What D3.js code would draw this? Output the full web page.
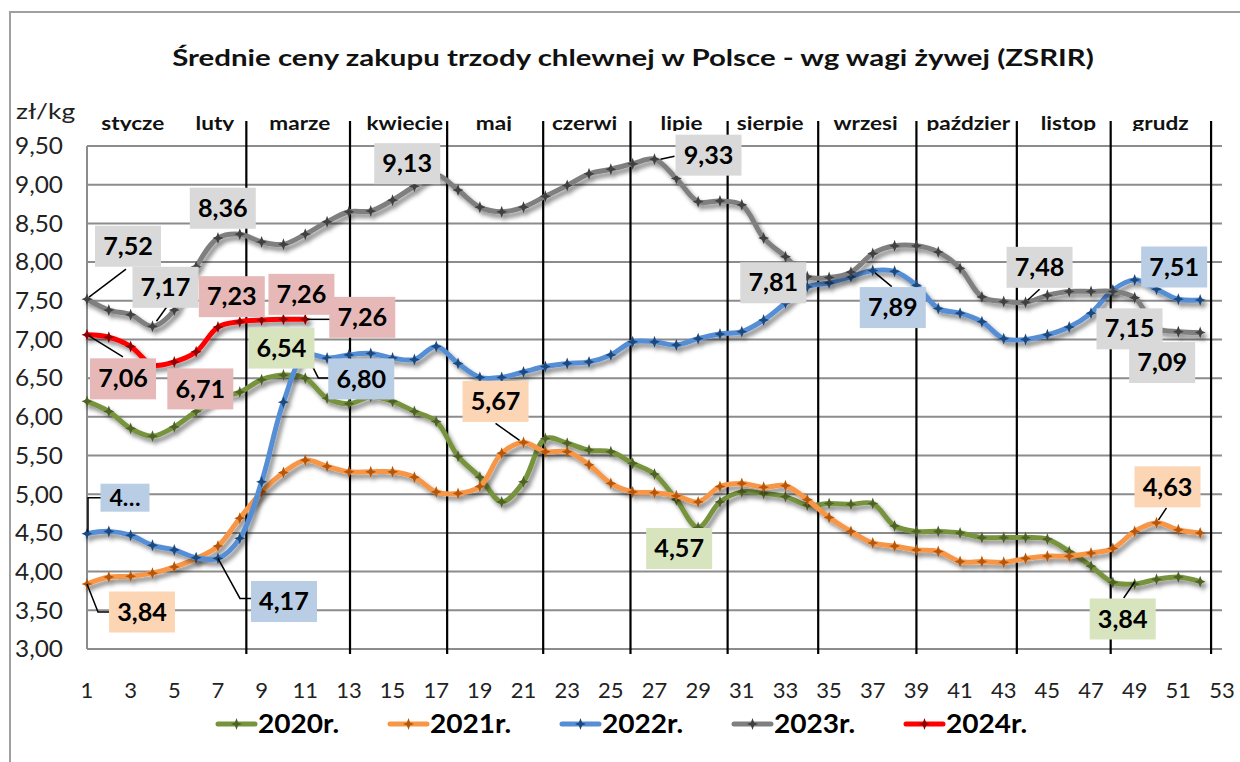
<!DOCTYPE html>
<html>
<head>
<meta charset="utf-8">
<script src="https://cdn.jsdelivr.net/npm/d3@7.9.0/dist/d3.min.js"></script>
<style>
  body { margin: 0; background: #fff; }
  svg { display: block; font-family: Lato, "Noto Sans", sans-serif; }
</style>
</head>
<body>
<svg id="chart" width="1240" height="762"></svg>
<script>
// weekly prices, zł/kg live weight
const weeks = d3.range(1, 53);
const y2020 = [6.20, 6.07, 5.85, 5.75, 5.87, 6.07, 6.24, 6.32, 6.48, 6.54, 6.50, 6.24, 6.17, 6.26, 6.20, 6.07, 5.94, 5.49, 5.22, 4.90,
  5.16, 5.72, 5.66, 5.57, 5.55, 5.40, 5.26, 4.93, 4.57, 4.90, 5.03, 5.01, 4.97, 4.86, 4.88, 4.87, 4.88, 4.59, 4.52, 4.52,
  4.50, 4.44, 4.44, 4.44, 4.42, 4.26, 4.07, 3.86, 3.84, 3.90, 3.93, 3.87];
const y2021 = [3.84, 3.93, 3.94, 3.98, 4.06, 4.17, 4.33, 4.69, 5.03, 5.28, 5.44, 5.36, 5.29, 5.29, 5.29, 5.22, 5.03, 5.01, 5.10, 5.53,
  5.67, 5.55, 5.55, 5.38, 5.14, 5.03, 5.02, 4.98, 4.90, 5.10, 5.14, 5.09, 5.11, 4.93, 4.70, 4.52, 4.37, 4.33, 4.28, 4.26,
  4.13, 4.13, 4.12, 4.17, 4.20, 4.20, 4.24, 4.30, 4.52, 4.63, 4.54, 4.50];
const y2022 = [4.49, 4.52, 4.47, 4.34, 4.28, 4.18, 4.17, 4.43, 5.16, 6.19, 6.80, 6.76, 6.80, 6.82, 6.76, 6.74, 6.91, 6.69, 6.51, 6.51,
  6.58, 6.65, 6.69, 6.71, 6.80, 6.97, 6.97, 6.93, 7.01, 7.07, 7.10, 7.25, 7.47, 7.68, 7.73, 7.81, 7.89, 7.88, 7.70, 7.40,
  7.34, 7.23, 7.01, 7.00, 7.06, 7.16, 7.34, 7.64, 7.77, 7.65, 7.52, 7.51];
const y2023 = [7.52, 7.38, 7.32, 7.17, 7.38, 7.94, 8.31, 8.36, 8.26, 8.23, 8.36, 8.52, 8.65, 8.66, 8.80, 8.98, 9.13, 8.93, 8.71, 8.65,
  8.71, 8.85, 8.99, 9.14, 9.20, 9.27, 9.33, 9.08, 8.78, 8.79, 8.74, 8.31, 8.07, 7.81, 7.80, 7.87, 8.11, 8.21, 8.21, 8.13,
  7.92, 7.55, 7.49, 7.48, 7.57, 7.62, 7.62, 7.62, 7.54, 7.15, 7.10, 7.09];
const y2024 = [7.06, 7.03, 6.91, 6.67, 6.71, 6.84, 7.16, 7.23, 7.25, 7.26, 7.26];

const seriesNames = ['2020r.', '2021r.', '2022r.', '2023r.', '2024r.'];
const yTicks = d3.range(3, 9.51, 0.5);
const xTicks = d3.range(1, 54, 2);
const months = ['stycze', 'luty', 'marze', 'kwiecie', 'maj', 'czerwi', 'lipie', 'sierpie', 'wrzesi', 'paździer', 'listop', 'grudz'];
const monthCenters = [3.1, 6.86, 10.75, 15.56, 19.64, 23.8, 28.24, 32.3, 36.67, 41.38, 45.96, 50.18];
const monthBreaks = [8.3, 13.05, 17.5, 21.9, 25.9, 30.35, 34.5, 39.0, 43.6, 47.9, 52.5];

// which points carry a value label: series index, week
const labelSeries = [3, 3, 3, 3, 3, 3, 3, 3, 3, 4, 4, 4, 4, 4, 2, 2, 2, 2, 2, 1, 1, 1, 0, 0, 0];
const labelWeeks = [1, 4, 8, 17, 27, 34, 44, 50, 52, 1, 5, 8, 10, 11, 1, 7, 11, 37, 52, 1, 21, 50, 10, 29, 49];

const series = [y2020, y2021, y2022, y2023, y2024];
const lineColors = ['#77933c', '#f79646', '#558ed5', '#7f7f7f', '#ff0000'];
const markColors = ['#4f6228', '#b65708', '#1f497d', '#404040', '#900000'];
const boxColors = ['#d7e4bd', '#fcd5b5', '#b9cde5', '#d9d9d9', '#e6b9b8'];

// label box offsets from the point and leader lines (px)
const labelLayout = [
  { dx: 41, dy: -53, lead: [[2, -2], [39, -30]] },
  { dx: 13, dy: -39, lead: [[4, -5], [14, -19]] },
  { dx: -17, dy: -26 },
  { dx: -29, dy: -11 },
  { dx: 54, dy: -4, lead: [[6, 0], [20, -3]] },
  { dx: -34, dy: 6 },
  { dx: 14, dy: -35, lead: [[2, -2], [14, -13]] },
  { dx: -27, dy: 1 },
  { dx: -38, dy: 30 },
  { dx: 36, dy: 44, lead: [[2, 1], [36, 22]] },
  { dx: 26, dy: 27 },
  { dx: -8, dy: -25 },
  { dx: 18, dy: -25 },
  { dx: 57, dy: -2, lead: [[2, 0], [28, 0]] },
  { dx: 38, dy: -36, lead: [[1, -2], [1, -36], [14, -36]], text: '4…', w: 49, h: 28, size: 22 },
  { dx: 66, dy: 43, lead: [[0, 0], [22, 40], [33, 40]] },
  { dx: 56, dy: 24, lead: [[0, -3], [13, 23], [23, 23]] },
  { dx: 20, dy: 37, lead: [[2, 2], [19, 16]] },
  { dx: -26, dy: -33 },
  { dx: 55, dy: 28, lead: [[0, 0], [11, 28], [22, 28]] },
  { dx: -28, dy: -41, lead: [[-4, -2], [-28, -19]] },
  { dx: 11, dy: -36, lead: [[2, -3], [10, -15]] },
  { dx: -2, dy: -27 },
  { dx: -19, dy: 21 },
  { dx: -12, dy: 35, lead: [[0, -2], [-11, 14]] }
];

const svg = d3.select('#chart');
const x = d3.scaleLinear().domain([1, 53]).range([87, 1222]);
const y = d3.scaleLinear().domain([3, 9.5]).range([649, 146]);

// drop shadow like the spreadsheet lines
const defs = svg.append('defs');
const f = defs.append('filter').attr('id', 'shadow').attr('x', '-10%').attr('y', '-10%').attr('width', '120%').attr('height', '130%');
f.append('feDropShadow').attr('dx', 3).attr('dy', 4).attr('stdDeviation', 2.2)
  .attr('flood-color', '#000').attr('flood-opacity', 0.45);
defs.append('clipPath').attr('id', 'monthClip')
  .append('rect').attr('x', 0).attr('y', 0).attr('width', 1240).attr('height', 131);

// outer frame (only left and top edges visible)
svg.append('rect').attr('x', 10).attr('y', 12).attr('width', 1260).attr('height', 780)
  .attr('fill', 'none').attr('stroke', '#a0a0a0').attr('stroke-width', 2);

// the original fonts are drawn wider, so stretch text horizontally
svg.append('text').attr('transform', 'translate(633,66) scale(1.28,1)').attr('text-anchor', 'middle')
  .attr('font-size', 23).attr('font-weight', 700).attr('fill', '#111')
  .text('Średnie ceny zakupu trzody chlewnej w Polsce - wg wagi żywej (ZSRIR)');

// gridlines
svg.append('g').selectAll('line').data(yTicks).join('line')
  .attr('x1', x(1)).attr('x2', x(53))
  .attr('y1', (d) => y(d)).attr('y2', (d) => y(d))
  .attr('stroke', '#8c8c8c').attr('stroke-width', 2);
svg.append('line').attr('x1', x(1)).attr('x2', x(1)).attr('y1', y(9.5)).attr('y2', y(3))
  .attr('stroke', '#8c8c8c').attr('stroke-width', 2);

// y axis labels
svg.append('g').selectAll('text').data(yTicks).join('text')
  .attr('transform', (d) => `translate(63,${y(d)}) scale(1.06,1)`).attr('dy', '0.36em')
  .attr('text-anchor', 'end').attr('font-size', 23).attr('fill', '#222')
  .text((d) => d3.format('.2f')(d).replace('.', ','));
svg.append('text').attr('transform', 'translate(16,119) scale(1.2,1)')
  .attr('font-size', 22).attr('fill', '#222').text('zł/kg');

// x axis labels
svg.append('g').selectAll('text').data(xTicks).join('text')
  .attr('x', (d) => x(d)).attr('y', 698)
  .attr('text-anchor', 'middle').attr('font-size', 22).attr('fill', '#222')
  .text((d) => d);

// month separators and names
svg.append('g').selectAll('line').data(monthBreaks).join('line')
  .attr('x1', (d) => x(d)).attr('x2', (d) => x(d))
  .attr('y1', 121).attr('y2', 654)
  .attr('stroke', '#000').attr('stroke-width', 2.2);
svg.append('g').attr('clip-path', 'url(#monthClip)')
  .selectAll('text').data(months).join('text')
  .attr('transform', (d, i) => `translate(${x(monthCenters[i])},130) scale(1.22,1)`)
  .attr('text-anchor', 'middle').attr('font-size', 18.5).attr('font-weight', 700).attr('fill', '#111')
  .text((d) => d);

// series lines
const line = d3.line()
  .x((d, i) => x(weeks[i]))
  .y((d) => y(d))
  .curve(d3.curveCatmullRom.alpha(0.5));

const star = 'M0,-6L1.6,-1.6L5.5,0L1.6,1.6L0,6L-1.6,1.6L-5.5,0L-1.6,-1.6Z';

series.forEach((vals, s) => {
  const g = svg.append('g').attr('filter', 'url(#shadow)');
  g.append('path').attr('d', line(vals))
    .attr('fill', 'none').attr('stroke', lineColors[s])
    .attr('stroke-width', 5).attr('stroke-linecap', 'round').attr('stroke-linejoin', 'round');
  g.selectAll('path.mk').data(vals).join('path').attr('class', 'mk')
    .attr('d', star)
    .attr('transform', (d, i) => `translate(${x(weeks[i])},${y(d)})`)
    .attr('fill', markColors[s]);
});

// value labels
const labels = svg.append('g');
labelSeries.forEach((s, k) => {
  const wk = labelWeeks[k];
  const v = series[s][wk - 1];
  const px = x(wk), py = y(v);
  const lay = labelLayout[k];
  if (lay.lead) {
    labels.append('polyline')
      .attr('points', lay.lead.map(([a, b]) => `${px + a},${py + b}`).join(' '))
      .attr('fill', 'none').attr('stroke', '#000').attr('stroke-width', 1.5);
  }
  const bw = lay.w || 66, bh = lay.h || 41;
  const cx = px + lay.dx, cy = py + lay.dy;
  labels.append('rect')
    .attr('x', cx - bw / 2).attr('y', cy - bh / 2).attr('width', bw).attr('height', bh)
    .attr('fill', boxColors[s]);
  labels.append('text')
    .attr('transform', `translate(${cx},${cy}) scale(1.05,1)`).attr('dy', '0.36em').attr('text-anchor', 'middle')
    .attr('font-size', lay.size || 24).attr('font-weight', 700).attr('fill', '#000')
    .text(lay.text || d3.format('.2f')(v).replace('.', ','));
});

// legend
const legend = svg.append('g');
seriesNames.forEach((name, i) => {
  const lx = 218 + i * 172;
  const g = legend.append('g').attr('transform', `translate(${lx},724)`);
  g.append('line').attr('x1', 0).attr('x2', 37).attr('y1', 0).attr('y2', 0)
    .attr('stroke', lineColors[i]).attr('stroke-width', 5).attr('stroke-linecap', 'round');
  g.append('path').attr('d', star).attr('transform', 'translate(18.5,0)').attr('fill', markColors[i]);
  g.append('text').attr('transform', 'translate(40,0) scale(1.08,1)').attr('dy', '0.36em')
    .attr('font-size', 26).attr('font-weight', 700).attr('fill', '#000').text(name);
});
</script>
</body>
</html>
